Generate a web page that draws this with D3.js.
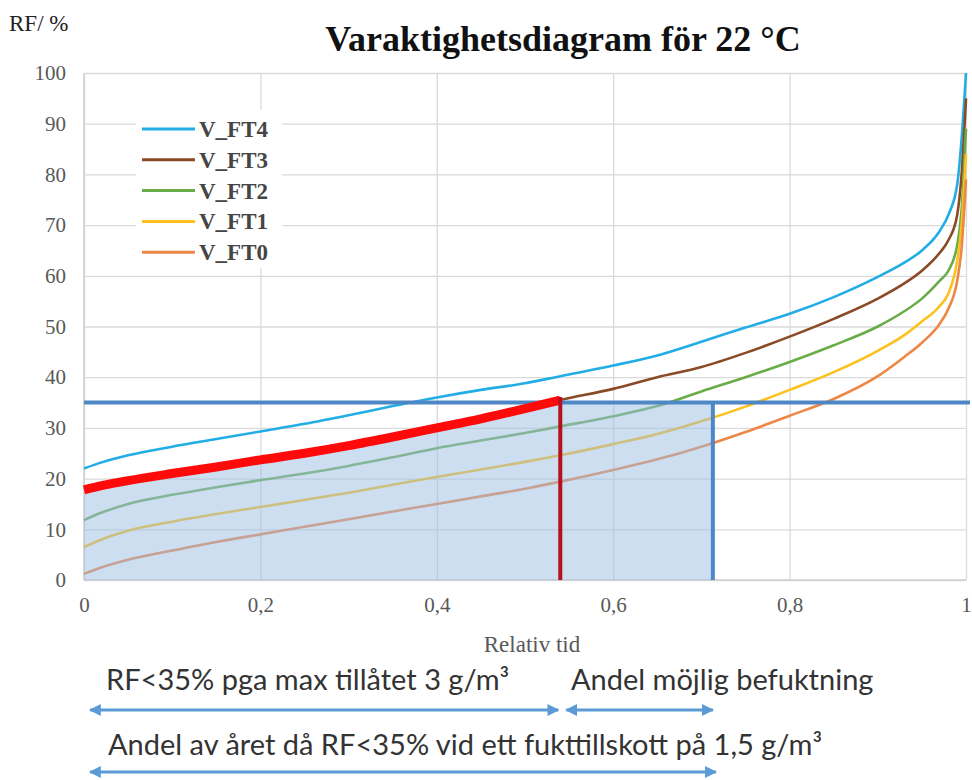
<!DOCTYPE html>
<html>
<head>
<meta charset="utf-8">
<script src="https://cdn.jsdelivr.net/npm/d3@7"></script>
<style>
  html, body { margin: 0; padding: 0; background: #fff; }
  svg { display: block; }
</style>
</head>
<body>
<svg id="chart" width="972" height="780"></svg>
<script>
// Relative time (fraction of the year) at which each curve is sampled
const relTime = [0, 0.02, 0.05, 0.1, 0.15, 0.2, 0.25, 0.3, 0.35, 0.4, 0.45, 0.5, 0.54,
                 0.6, 0.65, 0.7, 0.75, 0.8, 0.85, 0.9, 0.93, 0.95, 0.97, 0.98, 0.99, 0.995, 1];

// Relative humidity (%) duration curves
const vFT4 = [22, 23.2, 24.6, 26.3, 27.8, 29.3, 30.8, 32.5, 34.3, 36, 37.5, 38.8, 40.2,
              42.3, 44.3, 47, 49.8, 52.5, 55.8, 59.8, 62.6, 65, 68.8, 72, 78, 87, 100];
const vFT3 = [17.8, 18.6, 19.6, 21, 22.3, 23.7, 25, 26.5, 28.2, 30, 31.8, 33.8, 35.5,
              37.7, 40, 42, 44.8, 48, 51.5, 55.5, 58.5, 61, 64.5, 67, 72, 80, 95];
const vFT2 = [11.8, 13.3, 15, 16.8, 18.3, 19.7, 21, 22.5, 24.2, 26, 27.5, 29, 30.3,
              32.3, 34.3, 37.2, 40, 43, 46.3, 50, 53, 55.5, 59, 61, 66, 73, 89];
const vFT1 = [6.5, 8, 9.7, 11.5, 13, 14.4, 15.8, 17.2, 18.8, 20.3, 21.8, 23.3, 24.6,
              26.8, 28.8, 31.3, 34.2, 37.5, 41, 45.2, 48.3, 51, 54, 56.5, 63, 70, 84];
const vFT0 = [1.2, 2.5, 4, 5.8, 7.5, 9, 10.5, 12, 13.5, 15, 16.5, 18, 19.4,
              21.7, 23.8, 26.3, 29.2, 32.4, 35.7, 40.2, 44, 46.8, 50.5, 53.5, 59, 65.5, 79];

const seriesNames = ["V_FT4", "V_FT3", "V_FT2", "V_FT1", "V_FT0"];
const seriesValues = [vFT4, vFT3, vFT2, vFT1, vFT0];
const seriesColors = ["#22ade6", "#8a4a26", "#6aac48", "#fcc21b", "#ee8745"];

// Axis ticks
const yTicks = [0, 10, 20, 30, 40, 50, 60, 70, 80, 90, 100];
const xTicks = [0, 0.2, 0.4, 0.6, 0.8, 1];

// Markers drawn on the chart
const rfLimit = 35;          // RF limit, %
const redEnd = 0.54;         // share of year with RF<35% at max 3 g/m3
const humidEnd = 0.713;      // share of year with RF<35% at 1.5 g/m3

const titleText = "Varaktighetsdiagram för 22 °C";
const yAxisTitle = "RF/ %";
const xAxisTitle = "Relativ tid";
const note1 = "RF<35% pga max tillåtet 3 g/m³";
const note2 = "Andel möjlig befuktning";
const note3 = "Andel av året då RF<35% vid ett fukttillskott på 1,5 g/m³";

const svg = d3.select("#chart");
const plotLeft = 84, plotRight = 966, plotTop = 73, plotBottom = 580;
const serif = "Liberation Serif, Times New Roman, serif";

const x = d3.scaleLinear().domain([0, 1]).range([plotLeft, plotRight]);
const y = d3.scaleLinear().domain([0, 100]).range([plotBottom, plotTop]);

// Grid
const grid = svg.append("g");
grid.append("g")
  .attr("transform", `translate(${plotLeft},0)`)
  .call(d3.axisLeft(y).tickValues(yTicks).tickSize(-(plotRight - plotLeft)).tickFormat(""))
  .call(g => g.select(".domain").remove())
  .call(g => g.selectAll("line").attr("stroke", "#dadada").attr("stroke-width", 1.3));
grid.append("g")
  .attr("transform", `translate(0,${plotBottom})`)
  .call(d3.axisBottom(x).tickValues(xTicks).tickSize(-(plotBottom - plotTop)).tickFormat(""))
  .call(g => g.select(".domain").remove())
  .call(g => g.selectAll("line").attr("stroke", "#dadada").attr("stroke-width", 1.3));

// Axis lines
svg.append("line").attr("x1", plotLeft).attr("x2", plotLeft).attr("y1", plotTop).attr("y2", plotBottom)
  .attr("stroke", "#cfcfcf").attr("stroke-width", 1.5);
svg.append("line").attr("x1", plotLeft).attr("x2", plotRight).attr("y1", plotBottom).attr("y2", plotBottom)
  .attr("stroke", "#cfcfcf").attr("stroke-width", 1.5);

// Tick labels
svg.append("g")
  .attr("transform", `translate(${plotLeft - 18},0)`)
  .call(d3.axisLeft(y).tickValues(yTicks).tickSize(0).tickPadding(0).tickFormat(d3.format("d")))
  .call(g => g.select(".domain").remove())
  .call(g => g.selectAll("text").attr("font-family", serif)
      .attr("font-size", 21).attr("fill", "#595959"));
svg.append("g")
  .attr("transform", `translate(0,${plotBottom + 17})`)
  .call(d3.axisBottom(x).tickValues(xTicks).tickSize(0).tickPadding(0)
      .tickFormat(d => d3.format("")(d).replace(".", ",")))
  .call(g => g.select(".domain").remove())
  .call(g => g.selectAll("text").attr("font-family", serif)
      .attr("font-size", 21).attr("fill", "#595959"));

// Curves
const line = d3.line().x(d => x(d[0])).y(d => y(d[1])).curve(d3.curveMonotoneX);
seriesValues.forEach((vals, i) => {
  svg.append("path")
    .datum(relTime.map((t, k) => [t, vals[k]]))
    .attr("fill", "none")
    .attr("stroke", seriesColors[i])
    .attr("stroke-width", 2.6)
    .attr("d", line);
});

// Shaded share of the year below the RF limit
const redPts = relTime.map((t, k) => [t, vFT3[k]]).filter(d => d[0] <= redEnd);
const shadePts = [[0, 0]].concat(redPts, [[redEnd, rfLimit], [humidEnd, rfLimit], [humidEnd, 0]]);
svg.append("path")
  .attr("d", d3.line().x(d => x(d[0])).y(d => y(d[1]))(shadePts) + "Z")
  .attr("fill", "#9dbde4").attr("fill-opacity", 0.5);

// RF limit line
svg.append("line")
  .attr("x1", x(0)).attr("x2", 970).attr("y1", y(rfLimit)).attr("y2", y(rfLimit))
  .attr("stroke", "#4e87c6").attr("stroke-width", 4);

// Red highlight along V_FT3 up to the limit
svg.append("path")
  .datum(redPts)
  .attr("fill", "none").attr("stroke", "#ff0a0a").attr("stroke-width", 9)
  .attr("stroke-linecap", "butt")
  .attr("d", d3.line().x(d => x(d[0])).y(d => y(d[1])).curve(d3.curveMonotoneX));

svg.append("line")
  .attr("x1", x(redEnd)).attr("x2", x(redEnd))
  .attr("y1", y(vFT3[relTime.indexOf(redEnd)]) - 3).attr("y2", y(0))
  .attr("stroke", "#b4111c").attr("stroke-width", 4);

svg.append("line")
  .attr("x1", x(humidEnd)).attr("x2", x(humidEnd))
  .attr("y1", y(rfLimit)).attr("y2", y(0))
  .attr("stroke", "#4e87c6").attr("stroke-width", 4);

// Legend
const legend = svg.append("g");
legend.append("rect").attr("x", 136).attr("y", 110).attr("width", 146).attr("height", 158)
  .attr("fill", "#fff");
seriesNames.forEach((name, i) => {
  const ly = 129 + i * 30.8;
  legend.append("line").attr("x1", 142).attr("x2", 195).attr("y1", ly).attr("y2", ly)
    .attr("stroke", seriesColors[i]).attr("stroke-width", 3);
  legend.append("text").attr("x", 199).attr("y", ly).attr("dy", "0.35em")
    .attr("font-family", serif).attr("font-weight", "bold")
    .attr("font-size", 23).attr("fill", "#454545").text(name);
});

// Titles
svg.append("text").attr("x", 563).attr("y", 51).attr("text-anchor", "middle")
  .attr("font-family", serif)
  .attr("font-weight", "bold").attr("font-size", 36).attr("fill", "#111").text(titleText);
svg.append("text").attr("x", 9).attr("y", 31)
  .attr("font-family", serif)
  .attr("font-size", 23).attr("fill", "#222").text(yAxisTitle);
svg.append("text").attr("x", 532).attr("y", 652).attr("text-anchor", "middle")
  .attr("font-family", serif)
  .attr("font-size", 23).attr("fill", "#595959").text(xAxisTitle);

// Annotation arrows below the axis
const defs = svg.append("defs");
defs.append("marker").attr("id", "head").attr("viewBox", "0 0 10 10")
  .attr("refX", 9).attr("refY", 5).attr("markerWidth", 4).attr("markerHeight", 4)
  .attr("orient", "auto-start-reverse")
  .append("path").attr("d", "M0,0 L10,5 L0,10 Z").attr("fill", "#5b9bd5");

function arrow(x1, x2, yy) {
  svg.append("line").attr("x1", x1).attr("x2", x2).attr("y1", yy).attr("y2", yy)
    .attr("stroke", "#5b9bd5").attr("stroke-width", 3)
    .attr("marker-start", "url(#head)").attr("marker-end", "url(#head)");
}
arrow(90, x(redEnd) - 2, 710);
arrow(x(redEnd) + 6, x(humidEnd), 710);
arrow(90, x(humidEnd) + 3, 772);

const noteFont = "Lato, Carlito, Calibri, sans-serif";
svg.append("text").attr("x", 106).attr("y", 690).attr("font-family", noteFont)
  .attr("font-size", 29).attr("fill", "#333").text(note1);
svg.append("text").attr("x", 571).attr("y", 690).attr("font-family", noteFont)
  .attr("font-size", 29).attr("fill", "#333").text(note2);
svg.append("text").attr("x", 108).attr("y", 755).attr("font-family", noteFont)
  .attr("font-size", 29).attr("fill", "#333").text(note3);
</script>
</body>
</html>
